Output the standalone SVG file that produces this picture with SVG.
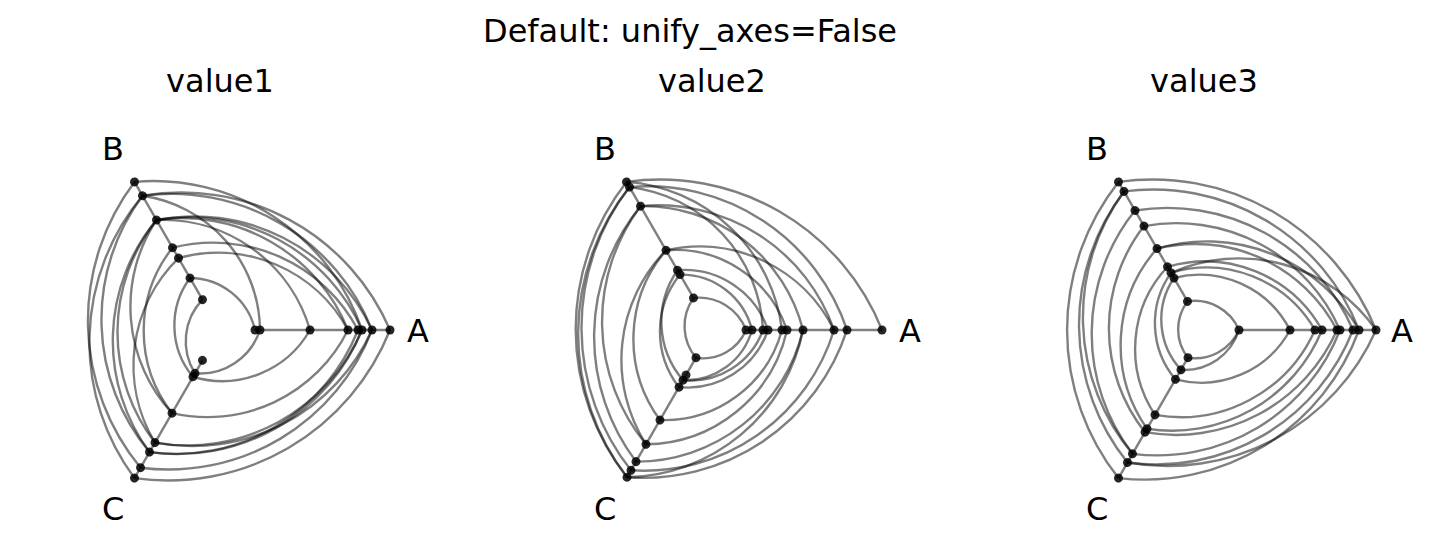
<svg xmlns="http://www.w3.org/2000/svg" width="1430" height="550" viewBox="0 0 1430 550">
<style>
text{font-family:"DejaVu Sans",sans-serif;font-size:32px;fill:#000}
.ax{stroke:#808080;stroke-width:2.4;fill:none}
.e path{fill:none;stroke:#000;stroke-opacity:0.5;stroke-width:2.4}
.d circle{fill:#000;fill-opacity:0.85}
</style>
<rect width="1430" height="550" fill="#fff"/>
<text x="690" y="42" text-anchor="middle">Default: unify_axes=False</text>
<text x="220" y="92" text-anchor="middle">value1</text>
<text x="712" y="92" text-anchor="middle">value2</text>
<text x="1204" y="92" text-anchor="middle">value3</text>

<g id="panel1" transform="translate(220,330)">
<text x="187" y="12">A</text><text x="-118" y="-170">B</text><text x="-118" y="190">C</text>
<g class="ax"><path d="M35 0H170"/><path d="M35 0H171" transform="rotate(-120)"/><path d="M35 0H171" transform="rotate(120)"/></g>
<g id="connectors1" class="e">
<g><path d="M170 0A227 227 0 0 0 -77.5 -134.2"/><path d="M152 0A196 196 0 0 0 -63.5 -110"/><path d="M142 0A220 220 0 0 0 -85.5 -148.1"/><path d="M138 0A164 164 0 0 0 -47.5 -82.3"/><path d="M128 0A148 148 0 0 0 -41.5 -71.9"/><path d="M90 0A153 153 0 0 0 -63.5 -110"/><path d="M40 0A137 137 0 0 0 -77.5 -134.2"/><path d="M35 0A67 67 0 0 0 -30 -52"/><path d="M142 0A189 189 0 0 0 -63.5 -110"/><path d="M152 0A216 216 0 0 0 -77.5 -134.2"/><path d="M128 0A179 179 0 0 0 -63.5 -110"/></g>
<g transform="rotate(-120)"><path d="M155 0A207 207 0 0 0 -70.5 -122.1"/><path d="M127 0A181 181 0 0 0 -65 -112.6"/><path d="M171 0A231 231 0 0 0 -79.5 -137.7"/><path d="M95 0A134 134 0 0 0 -48 -83.1"/><path d="M60 0A80 80 0 0 0 -27 -46.8"/><path d="M35 0A60 60 0 0 0 -25 -43.3"/><path d="M155 0A228 228 0 0 0 -85.5 -148.1"/><path d="M127 0A188 188 0 0 0 -70.5 -122.1"/><path d="M83 0A150 150 0 0 0 -65 -112.6"/><path d="M127 0A157 157 0 0 0 -48 -83.1"/></g>
<g transform="rotate(120)"><path d="M141 0A196 196 0 0 0 -69 -119.5"/><path d="M130 0A190 190 0 0 0 -71 -123"/><path d="M159 0A218 218 0 0 0 -76 -131.6"/><path d="M171 0A239 239 0 0 0 -85 -147.2"/><path d="M54 0A101 101 0 0 0 -45 -77.9"/><path d="M50 0A63 63 0 0 0 -20 -34.6"/><path d="M96 0A157 157 0 0 0 -64 -110.8"/><path d="M141 0A199 199 0 0 0 -71 -123"/><path d="M130 0A197 197 0 0 0 -76 -131.6"/></g>
</g>
<g class="d">
<g><circle cx="35" r="4.5"/><circle cx="40" r="4.5"/><circle cx="90" r="4.5"/><circle cx="128" r="4.5"/><circle cx="138" r="4.5"/><circle cx="142" r="4.5"/><circle cx="152" r="4.5"/><circle cx="170" r="4.5"/></g>
<g transform="rotate(-120)"><circle cx="171" r="4.5"/><circle cx="155" r="4.5"/><circle cx="127" r="4.5"/><circle cx="95" r="4.5"/><circle cx="83" r="4.5"/><circle cx="60" r="4.5"/><circle cx="35" r="4.5"/></g>
<g transform="rotate(120)"><circle cx="35" r="4.5"/><circle cx="50" r="4.5"/><circle cx="54" r="4.5"/><circle cx="96" r="4.5"/><circle cx="130" r="4.5"/><circle cx="141" r="4.5"/><circle cx="159" r="4.5"/><circle cx="171" r="4.5"/></g>
</g>
</g>

<g id="panel2" transform="translate(712,330)">
<text x="187" y="12">A</text><text x="-118" y="-170">B</text><text x="-118" y="190">C</text>
<g class="ax"><path d="M34 0H170"/><path d="M37 0H171" transform="rotate(-120)"/><path d="M32 0H170" transform="rotate(120)"/></g>
<g id="connectors2" class="e">
<g><path d="M170 0A239 239 0 0 0 -85.5 -148.1"/><path d="M135 0A210 210 0 0 0 -82.5 -142.9"/><path d="M122 0A186 186 0 0 0 -71.5 -123.8"/><path d="M91 0A164 164 0 0 0 -71.5 -123.8"/><path d="M75 0A118 118 0 0 0 -46 -79.7"/><path d="M56 0A88 88 0 0 0 -34.5 -59.8"/><path d="M40 0A73 73 0 0 0 -32 -55.4"/><path d="M34 0A50 50 0 0 0 -18.5 -32"/><path d="M70 0A169 169 0 0 0 -85.5 -148.1"/><path d="M51 0A151 151 0 0 0 -82.5 -142.9"/><path d="M122 0A150 150 0 0 0 -46 -79.7"/></g>
<g transform="rotate(-120)"><path d="M171 0A239 239 0 0 0 -85 -147.2"/><path d="M165 0A230 230 0 0 0 -81 -140.3"/><path d="M143 0A207 207 0 0 0 -76 -131.6"/><path d="M92 0A137 137 0 0 0 -52 -90.1"/><path d="M69 0A90 90 0 0 0 -29 -50.2"/><path d="M64 0A91 91 0 0 0 -33 -57.2"/><path d="M37 0A49 49 0 0 0 -16 -27.7"/><path d="M143 0A193 193 0 0 0 -66 -114.3"/><path d="M165 0A235 235 0 0 0 -85 -147.2"/><path d="M92 0A157 157 0 0 0 -66 -114.3"/></g>
<g transform="rotate(120)"><path d="M170 0A214 214 0 0 0 -67.5 -116.9"/><path d="M162 0A199 199 0 0 0 -61 -105.7"/><path d="M152 0A171 171 0 0 0 -45.5 -78.8"/><path d="M132 0A146 146 0 0 0 -37.5 -65"/><path d="M104 0A122 122 0 0 0 -35 -60.6"/><path d="M66 0A85 85 0 0 0 -28 -48.5"/><path d="M58 0A77 77 0 0 0 -25.5 -44.2"/><path d="M58 0A69 69 0 0 0 -20 -34.6"/><path d="M32 0A46 46 0 0 0 -17 -29.4"/><path d="M170 0A183 183 0 0 0 -45.5 -78.8"/></g>
</g>
<g class="d">
<g><circle cx="34" r="4.5"/><circle cx="40" r="4.5"/><circle cx="51" r="4.5"/><circle cx="56" r="4.5"/><circle cx="70" r="4.5"/><circle cx="75" r="4.5"/><circle cx="91" r="4.5"/><circle cx="122" r="4.5"/><circle cx="135" r="4.5"/><circle cx="170" r="4.5"/></g>
<g transform="rotate(-120)"><circle cx="171" r="4.5"/><circle cx="165" r="4.5"/><circle cx="143" r="4.5"/><circle cx="92" r="4.5"/><circle cx="69" r="4.5"/><circle cx="64" r="4.5"/><circle cx="37" r="4.5"/></g>
<g transform="rotate(120)"><circle cx="32" r="4.5"/><circle cx="52" r="4.5"/><circle cx="58" r="4.5"/><circle cx="66" r="4.5"/><circle cx="104" r="4.5"/><circle cx="132" r="4.5"/><circle cx="152" r="4.5"/><circle cx="162" r="4.5"/><circle cx="170" r="4.5"/></g>
</g>
</g>

<g id="panel3" transform="translate(1204,330)">
<text x="187" y="12">A</text><text x="-118" y="-170">B</text><text x="-118" y="190">C</text>
<g class="ax"><path d="M35 0H172"/><path d="M33 0H171" transform="rotate(-120)"/><path d="M32 0H171" transform="rotate(120)"/></g>
<g id="connectors3" class="e">
<g><path d="M172 0A241 241 0 0 0 -85.5 -148.1"/><path d="M155 0A221 221 0 0 0 -80 -138.6"/><path d="M149 0A202 202 0 0 0 -69 -119.5"/><path d="M136 0A179 179 0 0 0 -60 -103.9"/><path d="M133 0A160 160 0 0 0 -47 -81.4"/><path d="M118 0A134 134 0 0 0 -36.5 -63.2"/><path d="M111 0A125 125 0 0 0 -33 -57.2"/><path d="M86 0A102 102 0 0 0 -30 -52"/><path d="M35 0A48 48 0 0 0 -16.5 -28.6"/><path d="M155 0A175 175 0 0 0 -47 -81.4"/><path d="M172 0A167 167 0 0 0 -33 -57.2"/></g>
<g transform="rotate(-120)"><path d="M171 0A239 239 0 0 0 -85.5 -148.1"/><path d="M160 0A220 220 0 0 0 -76.5 -132.5"/><path d="M138 0A197 197 0 0 0 -71.5 -123.8"/><path d="M120 0A167 167 0 0 0 -59 -102.2"/><path d="M94 0A146 146 0 0 0 -57 -98.7"/><path d="M73 0A120 120 0 0 0 -49 -84.9"/><path d="M66 0A87 87 0 0 0 -28.5 -49.4"/><path d="M60 0A74 74 0 0 0 -23 -39.8"/><path d="M33 0A46 46 0 0 0 -16 -27.7"/><path d="M160 0A213 213 0 0 0 -71.5 -123.8"/></g>
<g transform="rotate(120)"><path d="M171 0A228 228 0 0 0 -77.5 -134.2"/><path d="M153 0A211 211 0 0 0 -74.5 -129"/><path d="M143 0A196 196 0 0 0 -68 -117.8"/><path d="M118 0A176 176 0 0 0 -66.5 -115.2"/><path d="M114 0A162 162 0 0 0 -59 -102.2"/><path d="M98 0A147 147 0 0 0 -55.5 -96.1"/><path d="M57 0A101 101 0 0 0 -43 -74.5"/><path d="M46 0A57 57 0 0 0 -17.5 -30.3"/><path d="M32 0A48 48 0 0 0 -17.5 -30.3"/><path d="M153 0A228 228 0 0 0 -86 -149"/></g>
</g>
<g class="d">
<g><circle cx="35" r="4.5"/><circle cx="86" r="4.5"/><circle cx="111" r="4.5"/><circle cx="118" r="4.5"/><circle cx="133" r="4.5"/><circle cx="136" r="4.5"/><circle cx="149" r="4.5"/><circle cx="155" r="4.5"/><circle cx="172" r="4.5"/></g>
<g transform="rotate(-120)"><circle cx="171" r="4.5"/><circle cx="160" r="4.5"/><circle cx="138" r="4.5"/><circle cx="120" r="4.5"/><circle cx="94" r="4.5"/><circle cx="73" r="4.5"/><circle cx="66" r="4.5"/><circle cx="60" r="4.5"/><circle cx="33" r="4.5"/></g>
<g transform="rotate(120)"><circle cx="32" r="4.5"/><circle cx="46" r="4.5"/><circle cx="57" r="4.5"/><circle cx="98" r="4.5"/><circle cx="114" r="4.5"/><circle cx="118" r="4.5"/><circle cx="143" r="4.5"/><circle cx="153" r="4.5"/><circle cx="171" r="4.5"/></g>
</g>
</g>
</svg>
